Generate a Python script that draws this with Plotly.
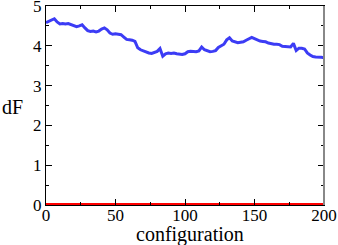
import plotly.graph_objects as go

config = list(range(0, 201, 2))
dF = [4.58, 4.62, 4.66, 4.68, 4.60, 4.55, 4.56, 4.55, 4.56, 4.53,
      4.50, 4.48, 4.50, 4.53, 4.45, 4.38, 4.36, 4.37, 4.35, 4.37,
      4.42, 4.45, 4.40, 4.32, 4.29, 4.30, 4.29, 4.28, 4.22, 4.16,
      4.15, 4.14, 4.11, 3.95, 3.90, 3.87, 3.84, 3.82, 3.81, 3.84,
      3.86, 3.93, 3.74, 3.80, 3.82, 3.81, 3.82, 3.80, 3.79, 3.78,
      3.80, 3.85, 3.86, 3.86, 3.85, 3.87, 3.97, 3.90, 3.87, 3.85,
      3.86, 3.88, 3.96, 3.99, 4.04, 4.15, 4.20, 4.12, 4.09, 4.08,
      4.09, 4.10, 4.14, 4.17, 4.21, 4.18, 4.14, 4.12, 4.11, 4.10,
      4.07, 4.05, 4.04, 4.04, 4.03, 3.99, 3.98, 3.97, 3.97, 4.06,
      3.88, 3.94, 3.94, 3.92, 3.82, 3.77, 3.73, 3.72, 3.72, 3.71,
      3.70]
zero_x = [0, 200]
zero_y = [0, 0]

x_ticks = [0, 50, 100, 150, 200]
y_ticks = [0, 1, 2, 3, 4, 5]

font = "Liberation Serif"

fig = go.Figure()
fig.add_trace(go.Scatter(x=zero_x, y=zero_y, mode="lines",
                         line=dict(color="#ff0000", width=4), showlegend=False))
fig.add_trace(go.Scatter(x=config, y=dF, mode="lines",
                         line=dict(color="#3c3cf5", width=3), showlegend=False))

L, R, T, B = 46, 14, 6, 40
W, H = 338, 245
fig.update_layout(
    width=W, height=H,
    margin=dict(l=L, r=R, t=T, b=B, autoexpand=False),
    paper_bgcolor="white", plot_bgcolor="white",
    font=dict(family=font, size=17, color="black"),
    xaxis=dict(range=[0, 200], tickvals=x_ticks, ticks="inside", ticklen=6,
               tickwidth=1, tickcolor="black", showline=True, linecolor="black",
               linewidth=1, mirror="allticks", showgrid=False, zeroline=False,
               automargin=False, ticklabeloverflow="allow", ticklabelstandoff=-5,
               minor=dict(dtick=25, ticks="inside", ticklen=3, tickcolor="black"),
               tickfont=dict(family=font, size=17)),
    yaxis=dict(range=[0, 5], tickvals=y_ticks, ticks="inside", ticklen=6,
               tickwidth=1, tickcolor="black", showline=True, linecolor="black",
               linewidth=1, mirror="allticks", showgrid=False, zeroline=False,
               automargin=False, ticklabeloverflow="allow",
               minor=dict(dtick=0.5, ticks="inside", ticklen=3, tickcolor="black"),
               tickfont=dict(family=font, size=17)),
    shapes=[dict(type="line", xref="paper", yref="paper", x0=1, x1=1, y0=0, y1=1,
                 line=dict(color="#888888", width=2))],
)
pw, ph = W - L - R, H - T - B
fig.add_annotation(text="dF", x=(12 - L) / pw, y=(H - B - 107) / ph,
                   xref="paper", yref="paper", showarrow=False,
                   font=dict(family=font, size=20), xanchor="center", yanchor="middle")
fig.add_annotation(text="configuration", x=(190 - L) / pw, y=(H - B - 234) / ph,
                   xref="paper", yref="paper", showarrow=False,
                   font=dict(family=font, size=20), xanchor="center", yanchor="middle")

fig.write_html("out.html", config=dict(displayModeBar=False),
               post_script="document.body.style.margin='0';document.body.style.overflow='hidden';")
